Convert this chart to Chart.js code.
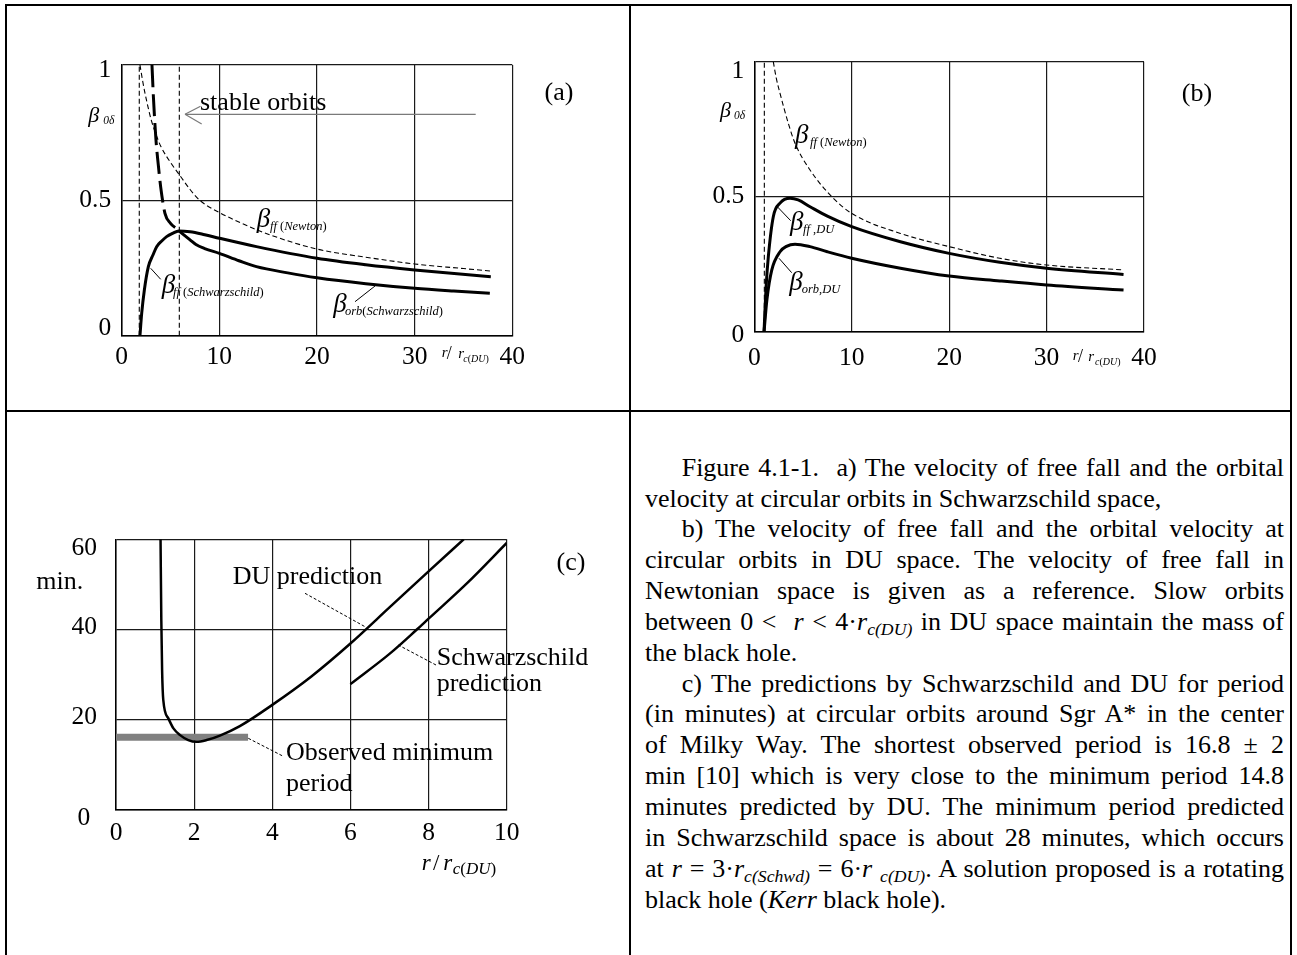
<!DOCTYPE html>
<html>
<head>
<meta charset="utf-8">
<script src="https://cdn.jsdelivr.net/npm/chart.js@4.4.1/dist/chart.umd.min.js"></script>
<style>
  html, body { margin: 0; padding: 0; background: #fff; }
  body { width: 1297px; height: 955px; position: relative; overflow: hidden; font-family: "Liberation Serif", "Times New Roman", serif; color: #000; }
  canvas { position: absolute; }
  .rule { position: absolute; background: #000; z-index: 5; }
  #caption { position: absolute; left: 645px; top: 452.7px; width: 639px; font-size: 26px; line-height: 30.85px; }
  #caption div { height: 30.85px; white-space: nowrap; overflow: visible; }
  #caption div.j { text-align: justify; text-align-last: justify; white-space: normal; }
  #caption div.ind { text-indent: 36.7px; }
  .sb { font-size: 0.68em; font-style: italic; position: relative; top: 0.3em; line-height: 0; }
</style>
</head>
<body>
<canvas id="chartA" width="630" height="410" style="left:0;top:0"></canvas>
<canvas id="chartB" width="661" height="410" style="left:630px;top:0"></canvas>
<canvas id="chartC" width="630" height="545" style="left:0;top:410px"></canvas>

<div class="rule" style="left:5px;top:4px;width:1287px;height:2px"></div>
<div class="rule" style="left:5px;top:4px;width:2px;height:951px"></div>
<div class="rule" style="left:1290px;top:4px;width:2px;height:951px"></div>
<div class="rule" style="left:629px;top:4px;width:2px;height:951px"></div>
<div class="rule" style="left:5px;top:409.7px;width:1287px;height:2px"></div>

<div id="caption">
  <div class="j ind">Figure 4.1-1.&nbsp; a) The velocity of free fall and the orbital</div>
  <div>velocity at circular orbits in Schwarzschild space,</div>
  <div class="j ind">b) The velocity of free fall and the orbital velocity at</div>
  <div class="j">circular orbits in DU space. The velocity of free fall in</div>
  <div class="j">Newtonian space is given as a reference. Slow orbits</div>
  <div class="j">between 0 &lt;&nbsp; <i>r</i> &lt; 4·<i>r</i><span class="sb">c(DU)</span> in DU space maintain the mass of</div>
  <div>the black hole.</div>
  <div class="j ind">c) The predictions by Schwarzschild and DU for period</div>
  <div class="j">(in minutes) at circular orbits around Sgr A* in the center</div>
  <div class="j">of Milky Way. The shortest observed period is 16.8 ± 2</div>
  <div class="j">min [10] which is very close to the minimum period 14.8</div>
  <div class="j">minutes predicted by DU. The minimum period predicted</div>
  <div class="j">in Schwarzschild space is about 28 minutes, which occurs</div>
  <div class="j">at <i>r</i> = 3·<i>r</i><span class="sb">c(Schwd)</span> = 6·<i>r</i> <span class="sb">c(DU)</span>. A solution proposed is a rotating</div>
  <div>black hole (<i>Kerr</i> black hole).</div>
</div>

<script>
const SERIF = '"Liberation Serif", "Times New Roman", serif';

// panel (a): Schwarzschild space, r / r_c(DU)
const aXTicks = [0, 10, 20, 30, 40];
const aXLabels = ['0', '10', '20', '30', '40'];
const aYTicks = [0, 0.5, 1];
const aYLabels = ['0', '0.5', '1'];
const aNewtonR = [1.87, 2.2, 2.6, 3, 3.5, 4, 5, 6, 7, 8, 10, 12, 15, 20, 25, 30, 35, 38];
const aNewtonB = [1.0, 0.93, 0.86, 0.80, 0.745, 0.70, 0.64, 0.59, 0.54, 0.50, 0.455, 0.42, 0.375, 0.32, 0.29, 0.265, 0.248, 0.238];
const aFfSchwR = [1.87, 2.05, 2.32, 2.73, 3.2, 3.58, 4.1, 4.6, 5.2, 5.85, 7, 8.5, 10, 13.8, 20, 25, 30, 37.8];
const aFfSchwB = [0, 0.083, 0.169, 0.255, 0.298, 0.329, 0.35, 0.366, 0.378, 0.387, 0.384, 0.373, 0.36, 0.329, 0.286, 0.262, 0.243, 0.218];
const aOrbSchwR = [5.85, 7, 7.6, 8.5, 10, 12, 13.8, 17, 20, 25, 30, 34, 37.7];
const aOrbSchwB = [0.387, 0.354, 0.337, 0.322, 0.304, 0.277, 0.255, 0.232, 0.214, 0.192, 0.175, 0.165, 0.157];
const aOrbUnstR = [3.1, 3.25, 3.51, 3.75, 3.99, 4.43, 5.0, 5.7, 5.85];
const aOrbUnstB = [1.0, 0.88, 0.723, 0.63, 0.55, 0.452, 0.415, 0.393, 0.387];
const aMarkR = [1.8, 5.9];

// panel (b): DU space
const bXTicks = [0, 10, 20, 30, 40];
const bXLabels = ['0', '10', '20', '30', '40'];
const bYTicks = [0, 0.5, 1];
const bYLabels = ['0', '0.5', '1'];
const bNewtonR = [1.95, 2.25, 2.64, 3.49, 4.18, 5.72, 7.95, 10, 15, 20, 25.2, 30, 37.9];
const bNewtonB = [1.0, 0.94, 0.883, 0.772, 0.698, 0.599, 0.50, 0.438, 0.364, 0.315, 0.272, 0.247, 0.229];
const bFfDuR = [1.0, 1.2, 1.44, 1.95, 2.64, 3.67, 4.5, 5.72, 7.5, 10, 15, 20, 25.2, 30, 37.9];
const bFfDuB = [0, 0.16, 0.278, 0.426, 0.476, 0.494, 0.488, 0.463, 0.428, 0.389, 0.333, 0.290, 0.257, 0.235, 0.212];
const bOrbDuR = [1.0, 1.3, 1.79, 2.64, 3.3, 4.18, 5.72, 7.5, 10, 15, 20, 25.2, 30, 37.9];
const bOrbDuB = [0, 0.12, 0.228, 0.296, 0.316, 0.324, 0.315, 0.296, 0.272, 0.235, 0.206, 0.188, 0.173, 0.154];
const bMarkR = [1.03];

// panel (c): orbital period in minutes around Sgr A*
const cXTicks = [0, 2, 4, 6, 8, 10];
const cXLabels = ['0', '2', '4', '6', '8', '10'];
const cYTicks = [0, 20, 40, 60];
const cYLabels = ['0', '20', '40', '60'];
const cDuR = [1.14, 1.16, 1.18, 1.21, 1.34, 1.47, 1.64, 1.85, 2.06, 2.32, 2.66, 3.17, 4.0, 5.0, 6.0, 7.0, 8.0, 8.9];
const cDuT = [60, 42, 31, 24.4, 20.3, 18.1, 16.6, 15.5, 15.1, 15.5, 16.5, 18.6, 23.3, 29.6, 36.9, 44.9, 52.9, 60];
const cSchwR = [6, 7, 7.7, 8, 9, 10];
const cSchwT = [27.9, 34.6, 40, 42.4, 50.4, 59.2];
const cObsR = [0, 3.38];
const cObsT = [16.1, 16.1];

function curve(xs, ys, width, dash, color) {
  return {
    data: xs.map((x, i) => ({ x: x, y: ys[i] })),
    showLine: true,
    borderColor: color || '#000',
    borderWidth: width,
    borderDash: dash || [],
    borderCapStyle: 'butt',
    pointRadius: 0,
    cubicInterpolationMode: 'monotone',
    fill: false
  };
}

function markers(xs, y0, y1) {
  // thin dashed verticals at fixed r
  return xs.map(x => Object.assign(curve([x, x], [y0, y1], 1.1, [5, 3]), { cubicInterpolationMode: 'default', tension: 0 }));
}

// axis box size is fixed so the plot area lands where the original has it
function axis(ticks, labels, pad, horizontal, size) {
  return {
    type: 'linear',
    min: ticks[0],
    max: ticks[ticks.length - 1],
    afterBuildTicks: s => { s.ticks = ticks.map(v => ({ value: v })); },
    afterFit: s => { if (horizontal) s.height = size; else s.width = size; },
    ticks: {
      display: horizontal,
      callback: (v, i) => labels[i],
      padding: pad,
      color: '#000',
      font: { family: SERIF, size: 25.5 },
      maxRotation: 0,
      autoSkip: false
    },
    grid: { color: '#1a1a1a', lineWidth: 1.2, drawTicks: false },
    border: { color: '#000', width: 1.5 }
  };
}

function put(ctx, text, x, y, size, italic, align) {
  ctx.font = (italic ? 'italic ' : '') + size + 'px ' + SERIF;
  ctx.textAlign = align || 'left';
  ctx.fillText(text, x, y);
  return x + ctx.measureText(text).width;
}

// y tick labels sit a little inside the range at the ends, as in the original
function yLabels(chart, ticks, labels, pad, dy, dx) {
  const ctx = chart.ctx, s = chart.scales.y;
  ctx.save();
  ctx.fillStyle = '#000';
  ctx.textBaseline = 'middle';
  ticks.forEach((v, i) => {
    put(ctx, labels[i], chart.chartArea.left - pad + (dx ? dx[i] : 0), s.getPixelForValue(v) + dy[i], 25.5, false, 'right');
  });
  ctx.restore();
}

// subscript: letters italic, brackets and commas upright
function sub(ctx, text, x, y, size) {
  text.split(/([(),])/).forEach(t => {
    if (t) x = put(ctx, t, x, y, size, !/^[(),]$/.test(t));
  });
}

function beta(ctx, x, y, subX, subText) {
  put(ctx, 'β', x, y, 27, true);
  sub(ctx, subText, subX, y + 3.5, 12.5);
}

function seg(ctx, x1, y1, x2, y2, color, width, dash) {
  ctx.save();
  ctx.strokeStyle = color;
  ctx.lineWidth = width;
  ctx.setLineDash(dash || []);
  ctx.beginPath();
  ctx.moveTo(x1, y1);
  ctx.lineTo(x2, y2);
  ctx.stroke();
  ctx.restore();
}

function rOverR(ctx, x, y, big, slash, small, gaps) {
  put(ctx, 'r', x, y, big, true);
  put(ctx, '/', x + gaps[0], y + 1.5, slash, false);
  put(ctx, 'r', x + gaps[1], y + 0.5, big, true);
  sub(ctx, 'c(DU)', x + gaps[2], y + 4.5, small);
}

function notesA(chart) {
  const ctx = chart.ctx;
  yLabels(chart, aYTicks, aYLabels, 10.5, [-7.4, 0, 5.7]);
  ctx.save();
  ctx.fillStyle = '#000';
  ctx.textBaseline = 'alphabetic';
  put(ctx, 'stable orbits', 200, 110, 26, false);
  seg(ctx, 475.7, 114.3, 185, 114.3, '#7a7a7a', 1.2);
  seg(ctx, 185, 114.3, 200.5, 106.3, '#7a7a7a', 1.2);
  seg(ctx, 185, 114.3, 201.7, 124, '#7a7a7a', 1.2);
  put(ctx, 'β', 88.3, 122, 22, true);
  put(ctx, '0δ', 103.3, 123.5, 11.5, true);
  beta(ctx, 256.7, 226.5, 270, 'ff (Newton)');
  beta(ctx, 161.7, 292.5, 173, 'ff (Schwarzschild)');
  beta(ctx, 333.3, 311.5, 345, 'orb(Schwarzschild)');
  seg(ctx, 160.7, 279.3, 150.7, 268.3, '#000', 1);
  seg(ctx, 355, 301.7, 375, 286, '#000', 1);
  rOverR(ctx, 441.7, 357, 15, 18, 10, [5, 16.6, 21.6]);
  ctx.textBaseline = 'middle';
  put(ctx, '(a)', 559, 93, 26, false, 'center');
  ctx.restore();
}

function notesB(chart) {
  const ctx = chart.ctx;
  yLabels(chart, bYTicks, bYLabels, 10, [3.3, 0, 10]);
  ctx.save();
  ctx.fillStyle = '#000';
  ctx.textBaseline = 'alphabetic';
  put(ctx, 'β', 90, 117, 22, true);
  put(ctx, '0δ', 104, 118.5, 11.5, true);
  beta(ctx, 165, 142.5, 180, 'ff (Newton)');
  beta(ctx, 160, 229.5, 173, 'ff ,DU');
  beta(ctx, 159.3, 289.5, 171.7, 'orb,DU');
  seg(ctx, 160.7, 220.7, 147.3, 206.7, '#000', 1);
  seg(ctx, 161.7, 272.7, 149, 258.3, '#000', 1);
  rOverR(ctx, 442.7, 360, 15, 18, 10, [5.3, 15.6, 22.3]);
  ctx.textBaseline = 'middle';
  put(ctx, '(b)', 567, 94, 26, false, 'center');
  ctx.restore();
}

function notesC(chart) {
  const ctx = chart.ctx;
  yLabels(chart, cYTicks, cYLabels, 19, [8, -2, -2, 8.7], [-6.7, 0, 0, 0]);
  ctx.save();
  ctx.fillStyle = '#000';
  ctx.textBaseline = 'alphabetic';
  put(ctx, 'DU prediction', 232.7, 174, 26, false);
  put(ctx, 'Schwarzschild', 436.7, 255, 26, false);
  put(ctx, 'prediction', 436.7, 281, 26, false);
  put(ctx, 'Observed minimum', 286, 350, 26, false);
  put(ctx, 'period', 286, 381, 26, false);
  seg(ctx, 305, 183.3, 365, 216.7, '#000', 1, [3, 2]);
  seg(ctx, 436, 255, 398.3, 235, '#000', 1, [3, 2]);
  seg(ctx, 248.3, 328.3, 282.7, 346, '#000', 1, [3, 2]);
  put(ctx, 'r', 421.7, 460, 23, true);
  put(ctx, '/', 433, 460, 23, false);
  put(ctx, 'r', 443.3, 460, 23, true);
  sub(ctx, 'c(DU)', 452.7, 464, 17);
  ctx.textBaseline = 'middle';
  put(ctx, 'min.', 83.3, 171.7, 26, false, 'right');
  put(ctx, '(c)', 571, 153, 26, false, 'center');
  ctx.restore();
}

function build(canvasId, datasets, xAxis, yAxis, padding, notes) {
  return new Chart(document.getElementById(canvasId), {
    type: 'scatter',
    data: { datasets: datasets },
    options: {
      responsive: false,
      animation: false,
      events: [],
      layout: { padding: padding },
      plugins: { legend: { display: false }, tooltip: { enabled: false } },
      scales: { x: xAxis, y: yAxis }
    },
    plugins: [{ id: 'notes', afterDraw: chart => notes(chart) }]
  });
}

function drawAll() {
  build('chartA', [
    curve(aFfSchwR, aFfSchwB, 3),
    curve(aOrbSchwR, aOrbSchwB, 3),
    curve(aOrbUnstR, aOrbUnstB, 3, [22, 7]),
    curve(aNewtonR, aNewtonB, 1.1, [5, 3])
  ].concat(markers(aMarkR, 0, 1)),
    axis(aXTicks, aXLabels, 6, true, 45), axis(aYTicks, aYLabels, 10.5, false, 60),
    { left: 61.7, right: 117.7, top: 65, bottom: 29.3 }, notesA);

  build('chartB', [
    curve(bFfDuR, bFfDuB, 3),
    curve(bOrbDuR, bOrbDuB, 3),
    curve(bNewtonR, bNewtonB, 1.1, [5, 3])
  ].concat(markers(bMarkR, 0, 1)),
    axis(bXTicks, bXLabels, 11, true, 45), axis(bYTicks, bYLabels, 10, false, 60),
    { left: 64.3, right: 147, top: 61.7, bottom: 33.3 }, notesB);

  build('chartC', [
    curve(cDuR, cDuT, 2.5),
    curve(cSchwR, cSchwT, 2.5),
    Object.assign(curve(cObsR, cObsT, 7, [], '#808080'), { cubicInterpolationMode: 'default', tension: 0 })
  ],
    axis(cXTicks, cXLabels, 7.7, true, 50), axis(cYTicks, cYLabels, 19, false, 60),
    { left: 56, right: 123.3, top: 129.3, bottom: 95 }, notesC);
}

Promise.all([
  document.fonts.load('26px "Liberation Serif"'),
  document.fonts.load('italic 26px "Liberation Serif"')
]).catch(() => {}).then(drawAll);
</script>
</body>
</html>
